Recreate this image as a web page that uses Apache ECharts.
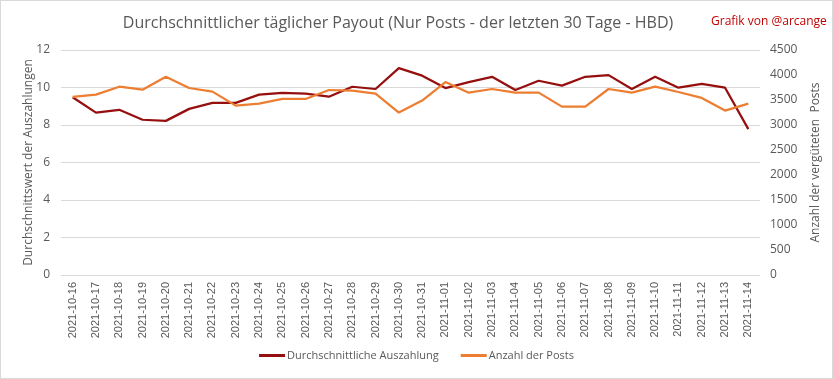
<!DOCTYPE html>
<html><head><meta charset="utf-8">
<script src="https://cdn.jsdelivr.net/npm/echarts@6/dist/echarts.min.js"></script>
<style>
html,body{margin:0;padding:0;background:#fff;}
#c{width:831px;height:377px;border:1px solid #d9d9d9;}
</style></head>
<body><div id="c"></div>
<script>
const categories = ["2021-10-16","2021-10-17","2021-10-18","2021-10-19","2021-10-20","2021-10-21","2021-10-22","2021-10-23","2021-10-24","2021-10-25","2021-10-26","2021-10-27","2021-10-28","2021-10-29","2021-10-30","2021-10-31","2021-11-01","2021-11-02","2021-11-03","2021-11-04","2021-11-05","2021-11-06","2021-11-07","2021-11-08","2021-11-09","2021-11-10","2021-11-11","2021-11-12","2021-11-13","2021-11-14"];
const avgPayout = [9.48,8.66,8.81,8.28,8.22,8.86,9.18,9.18,9.62,9.71,9.67,9.51,10.04,9.92,11.03,10.63,9.97,10.29,10.57,9.87,10.36,10.10,10.57,10.66,9.92,10.57,9.99,10.19,9.99,7.78];
const postCount = [3561,3607,3766,3706,3965,3740,3667,3388,3428,3521,3521,3700,3687,3627,3249,3488,3859,3647,3720,3647,3647,3368,3368,3720,3647,3766,3660,3541,3288,3428];
const leftTicks = {min:0, max:12, interval:2};
const rightTicks = {min:0, max:4500, interval:500};
const seriesNames = ["Durchschnittliche Auszahlung","Anzahl der Posts"];

const chart = echarts.init(document.getElementById('c'), null, {renderer:'canvas'});
const txt = '#595959';
const ff = '"Open Sans", "Liberation Sans", sans-serif';
chart.setOption({
  animation:false,
  textStyle:{fontFamily:ff},
  title:[
    {text:'Durchschnittlicher täglicher Payout (Nur Posts - der letzten 30 Tage - HBD)', left:392, top:9, textAlign:'center',
     textStyle:{fontSize:16, fontWeight:'normal', color:txt, fontFamily:ff}},
    {text:'Grafik von @arcange', left:705, top:10,
     textStyle:{fontSize:12, fontWeight:'normal', color:'#c00000', fontFamily:ff}}
  ],
  legend:{
    bottom:12, left:'center', itemWidth:26, itemHeight:3, itemGap:22,
    icon:'rect',
    textStyle:{color:txt, fontSize:11, fontFamily:ff, padding:[0,0,0,-3]},
    data:seriesNames
  },
  grid:{left:60, right:72, top:49, bottom:103, containLabel:false},
  xAxis:{
    type:'category', data:categories, boundaryGap:true,
    axisLine:{show:false}, axisTick:{show:false},
    axisLabel:{rotate:90, color:txt, fontSize:11, fontFamily:'"Liberation Sans", sans-serif', margin:7, interval:0}
  },
  yAxis:[
    {type:'value', min:leftTicks.min, max:leftTicks.max, interval:leftTicks.interval,
     name:'Durchschnittswert der Auszahlungen', nameLocation:'middle', nameGap:26, nameRotate:90,
     nameMoveOverlap:false,
     nameTextStyle:{color:txt, fontSize:12, fontFamily:ff},
     axisLabel:{color:txt, fontSize:12, margin:11},
     axisLine:{show:false}, axisTick:{show:false},
     splitLine:{lineStyle:{color:'#d9d9d9', width:1}}},
    {type:'value', min:rightTicks.min, max:rightTicks.max, interval:rightTicks.interval,
     name:'Anzahl der vergüteten  Posts', nameLocation:'middle', nameGap:50, nameRotate:90,
     nameMoveOverlap:false,
     nameTextStyle:{color:txt, fontSize:12, fontFamily:ff},
     axisLabel:{color:txt, fontSize:12, margin:10, formatter:function(v){return String(v);}},
     axisLine:{show:false}, axisTick:{show:false},
     splitLine:{show:false}}
  ],
  series:[
    {name:seriesNames[0], type:'line', yAxisIndex:0, data:avgPayout, symbol:'none',
     lineStyle:{color:'#960f0f', width:2.25}, itemStyle:{color:'#960f0f'}},
    {name:seriesNames[1], type:'line', yAxisIndex:1, data:postCount, symbol:'none',
     lineStyle:{color:'#ed7d31', width:2.25}, itemStyle:{color:'#ed7d31'}}
  ]
});
</script></body></html>
